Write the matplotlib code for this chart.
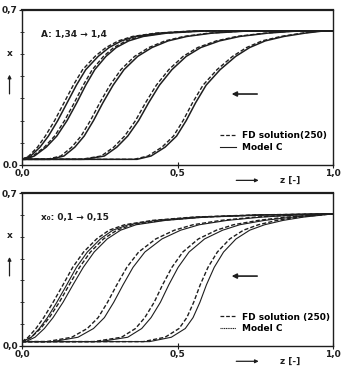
import matplotlib
matplotlib.use("Agg")
from matplotlib import pyplot as plt
from matplotlib.lines import Line2D

# mole fraction levels (y) and the z positions where each curve reaches them
levels_top = [0.025, 0.025, 0.04, 0.08, 0.13, 0.20, 0.28, 0.36, 0.43, 0.49, 0.53, 0.56, 0.58, 0.595, 0.605, 0.605]
fd_top = [
    [0.0, 0.0, 0.022, 0.05, 0.075, 0.105, 0.135, 0.165, 0.195, 0.235, 0.27, 0.31, 0.355, 0.43, 0.55, 1.0],
    [0.0, 0.005, 0.035, 0.072, 0.105, 0.137, 0.168, 0.197, 0.226, 0.262, 0.295, 0.335, 0.38, 0.455, 0.58, 1.0],
    [0.0, 0.08, 0.125, 0.16, 0.19, 0.22, 0.25, 0.283, 0.318, 0.362, 0.408, 0.46, 0.52, 0.6, 0.72, 1.0],
    [0.0, 0.19, 0.255, 0.295, 0.33, 0.365, 0.397, 0.432, 0.472, 0.518, 0.565, 0.625, 0.69, 0.78, 0.88, 1.0],
    [0.0, 0.36, 0.405, 0.45, 0.487, 0.518, 0.548, 0.582, 0.627, 0.677, 0.722, 0.772, 0.832, 0.9, 0.96, 1.0],
]
mc_top = [
    [0.0, 0.0, 0.028, 0.058, 0.085, 0.115, 0.145, 0.175, 0.205, 0.245, 0.28, 0.32, 0.365, 0.44, 0.56, 1.0],
    [0.0, 0.01, 0.04, 0.078, 0.112, 0.145, 0.176, 0.205, 0.234, 0.27, 0.303, 0.343, 0.39, 0.465, 0.59, 1.0],
    [0.0, 0.09, 0.135, 0.17, 0.2, 0.23, 0.26, 0.293, 0.328, 0.372, 0.418, 0.47, 0.53, 0.61, 0.73, 1.0],
    [0.0, 0.2, 0.265, 0.305, 0.34, 0.375, 0.407, 0.442, 0.482, 0.528, 0.575, 0.635, 0.7, 0.79, 0.89, 1.0],
    [0.0, 0.37, 0.415, 0.46, 0.497, 0.528, 0.558, 0.592, 0.637, 0.687, 0.732, 0.782, 0.842, 0.91, 0.97, 1.0],
]

levels_bot = [0.02, 0.02, 0.04, 0.08, 0.13, 0.20, 0.28, 0.36, 0.43, 0.49, 0.53, 0.555, 0.575, 0.59, 0.6, 0.605]
fd_bot = [
    [0.0, 0.0, 0.02, 0.045, 0.07, 0.1, 0.132, 0.163, 0.198, 0.24, 0.28, 0.33, 0.42, 0.55, 0.75, 1.0],
    [0.0, 0.005, 0.03, 0.06, 0.088, 0.12, 0.152, 0.185, 0.22, 0.262, 0.305, 0.355, 0.45, 0.58, 0.78, 1.0],
    [0.0, 0.08, 0.16, 0.21, 0.245, 0.275, 0.305, 0.337, 0.375, 0.43, 0.49, 0.55, 0.64, 0.75, 0.88, 1.0],
    [0.0, 0.23, 0.32, 0.365, 0.395, 0.425, 0.452, 0.482, 0.517, 0.567, 0.625, 0.68, 0.76, 0.85, 0.94, 1.0],
    [0.0, 0.39, 0.46, 0.505, 0.53, 0.552, 0.573, 0.598, 0.628, 0.668, 0.712, 0.76, 0.82, 0.89, 0.96, 1.0],
]
mc_bot = [
    [0.0, 0.0, 0.03, 0.056, 0.082, 0.112, 0.144, 0.175, 0.21, 0.252, 0.292, 0.342, 0.432, 0.56, 0.76, 1.0],
    [0.0, 0.012, 0.042, 0.072, 0.1, 0.132, 0.164, 0.197, 0.232, 0.274, 0.317, 0.367, 0.462, 0.59, 0.79, 1.0],
    [0.0, 0.1, 0.18, 0.23, 0.265, 0.295, 0.325, 0.357, 0.395, 0.45, 0.51, 0.57, 0.66, 0.77, 0.89, 1.0],
    [0.0, 0.25, 0.34, 0.385, 0.415, 0.445, 0.472, 0.502, 0.537, 0.587, 0.645, 0.7, 0.78, 0.87, 0.95, 1.0],
    [0.0, 0.41, 0.48, 0.525, 0.55, 0.572, 0.593, 0.618, 0.648, 0.688, 0.732, 0.78, 0.84, 0.905, 0.97, 1.0],
]

ink = "#1e1e1e"
fs = 6.5

fig = plt.figure(figsize=(3.43, 3.73), dpi=100)
ax1 = fig.add_axes([0.064, 0.558, 0.907, 0.4155])
ax2 = fig.add_axes([0.064, 0.0724, 0.907, 0.410])

panels = [
    (ax1, levels_top, fd_top, mc_top, "A: 1,34 \u2192 1,4", "0.0", "-", 1.1, "-", "FD solution(250)"),
    (ax2, levels_bot, fd_bot, mc_bot, "x\u2080: 0,1 \u2192 0,15", "0,0", "-", 0.8, (0, (1, 0.6)), "FD solution (250)"),
]

for ax, lev, fds, mcs, note, zero_lbl, mc_style, mc_lw, leg_style, fd_label in panels:
    for z in fds:
        ax.plot(z, lev, color=ink, lw=1.0, ls=(0, (3, 1.5)))
    for z in mcs:
        ax.plot(z, lev, color=ink, lw=mc_lw, ls=mc_style)

    ax.set_xlim(0, 1)
    ax.set_ylim(0, 0.7)
    ax.set_xticks([0, 0.5, 1.0])
    ax.set_xticklabels(["0,0", "0,5", "1,0"], fontsize=fs, fontweight="bold")
    ax.set_yticks([0, 0.7])
    ax.set_yticklabels([zero_lbl, "0,7"], fontsize=fs, fontweight="bold")
    ax.set_yticks([0.1, 0.2, 0.3, 0.4, 0.5, 0.6], minor=True)
    ax.tick_params(axis="both", which="major", direction="inout", length=4, width=0.8, pad=1, colors=ink)
    ax.tick_params(axis="y", which="minor", direction="inout", length=3, width=0.6, colors=ink)
    for side in ["left", "right", "bottom"]:
        ax.spines[side].set_linewidth(1.0)
        ax.spines[side].set_color(ink)
    ax.spines["top"].set_linewidth(1.6)
    ax.spines["top"].set_color(ink)

    ax.text(0.06, 0.59, note, fontsize=fs, fontweight="bold", va="center", color=ink)

    # arrow showing direction of movement
    ax.annotate("", xy=(0.665, 0.32), xytext=(0.765, 0.32),
                arrowprops=dict(arrowstyle="-|>", color=ink, lw=1.2, mutation_scale=7))

    handles = [Line2D([], [], color=ink, lw=0.9, ls=(0, (3, 1.5))),
               Line2D([], [], color=ink, lw=0.8, ls=leg_style)]
    ax.legend(handles, [fd_label, "Model C"], loc="lower left",
              bbox_to_anchor=(0.61, 0.03), frameon=False,
              handlelength=1.8, handletextpad=0.6, labelspacing=0.3,
              prop={"size": fs, "weight": "bold"})

    # axis labels with arrows
    ax.text(-0.04, 0.72, "x", transform=ax.transAxes, fontsize=fs, fontweight="bold",
            ha="center", va="center", color=ink)
    ax.annotate("", xy=(-0.04, 0.60), xytext=(-0.04, 0.44), xycoords="axes fraction",
                arrowprops=dict(arrowstyle="-|>", color=ink, lw=0.9, mutation_scale=5),
                annotation_clip=False)
    ax.annotate("", xy=(0.77, -0.10), xytext=(0.68, -0.10), xycoords="axes fraction",
                arrowprops=dict(arrowstyle="-|>", color=ink, lw=0.9, mutation_scale=5),
                annotation_clip=False)
    ax.text(0.83, -0.10, "z [-]", transform=ax.transAxes, fontsize=fs, fontweight="bold",
            va="center", color=ink)

fig.savefig("out.png", dpi=100)
